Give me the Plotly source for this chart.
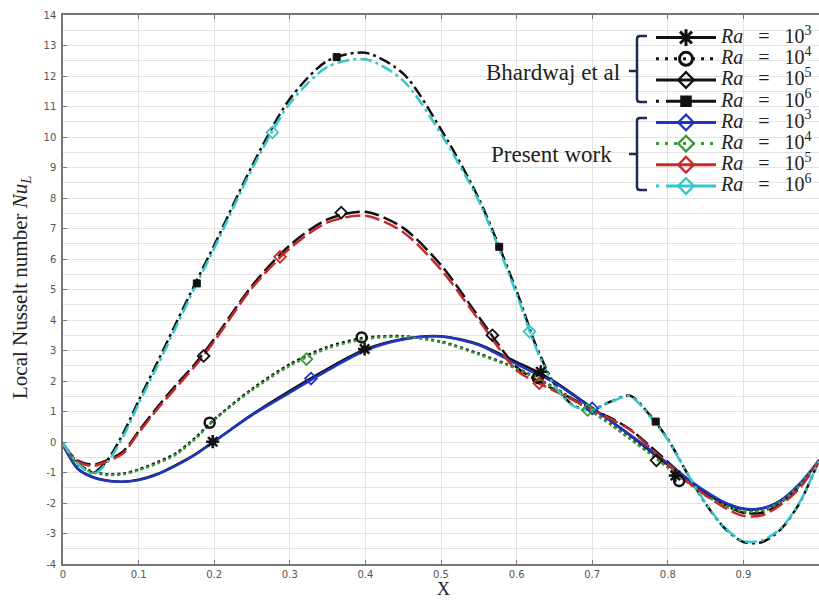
import plotly.graph_objects as go

# ---------------- data ----------------
X_POS = [0, 0.02, 0.04, 0.06, 0.08, 0.10, 0.125, 0.15, 0.175, 0.20, 0.25, 0.30, 0.35,
         0.40, 0.45, 0.50, 0.55, 0.60, 0.625, 0.65, 0.675, 0.70, 0.725, 0.75, 0.775,
         0.80, 0.825, 0.85, 0.875, 0.90, 0.925, 0.95, 0.975, 1.0]

bh_ra3 = [-0.1, -0.88, -1.15, -1.27, -1.3, -1.24, -1.05, -0.75, -0.4, 0.02, 0.9, 1.68, 2.4,
          3.04, 3.38, 3.47, 3.2, 2.62, 2.33, 1.98, 1.56, 1.12, 0.68, 0.22, -0.26,
          -0.75, -1.25, -1.68, -2.0, -2.2, -2.18, -1.92, -1.38, -0.6]
bh_ra4 = [-0.1, -0.74, -0.98, -1.06, -1.03, -0.9, -0.66, -0.36, 0.14, 0.74, 1.74, 2.55, 3.12,
          3.42, 3.47, 3.29, 2.9, 2.42, 2.12, 1.78, 1.4, 1.0, 0.58, 0.12, -0.34,
          -0.82, -1.3, -1.74, -2.08, -2.3, -2.27, -1.97, -1.42, -0.6]
bh_ra5 = [-0.1, -0.62, -0.74, -0.58, -0.3, 0.35, 1.15, 1.88, 2.57, 3.38, 5.12, 6.45, 7.3,
          7.55, 7.02, 5.8, 4.1, 2.45, 2.05, 1.72, 1.4, 1.08, 0.78, 0.42, -0.1,
          -0.65, -1.2, -1.65, -2.05, -2.32, -2.32, -2.0, -1.45, -0.6]
bh_ra6 = [-0.05, -0.7, -1.0, -0.55, 0.3, 1.35, 2.62, 3.92, 5.2, 6.45, 9.05, 11.25, 12.5,
          12.76, 12.08, 10.25, 7.98, 4.95, 3.2, 1.9, 1.2, 1.07, 1.33, 1.52, 0.92,
          0.1, -1.0, -2.02, -2.82, -3.28, -3.28, -2.85, -1.97, -0.6]

pw_ra3 = [-0.1, -0.9, -1.17, -1.28, -1.3, -1.25, -1.06, -0.77, -0.42, 0.02, 0.88, 1.62, 2.35,
          3.0, 3.36, 3.46, 3.18, 2.55, 2.25, 1.95, 1.53, 1.1, 0.68, 0.24, -0.22,
          -0.7, -1.18, -1.62, -1.98, -2.18, -2.17, -1.9, -1.35, -0.6]
pw_ra4 = [-0.1, -0.76, -1.0, -1.08, -1.05, -0.92, -0.7, -0.4, 0.1, 0.72, 1.7, 2.5, 3.07,
          3.38, 3.45, 3.27, 2.87, 2.4, 2.1, 1.76, 1.38, 0.98, 0.56, 0.1, -0.36,
          -0.84, -1.3, -1.75, -2.08, -2.28, -2.25, -1.95, -1.4, -0.6]
pw_ra5 = [-0.1, -0.65, -0.78, -0.62, -0.36, 0.3, 1.08, 1.8, 2.5, 3.3, 5.05, 6.35, 7.2,
          7.42, 6.88, 5.65, 4.0, 2.35, 1.98, 1.68, 1.37, 1.05, 0.75, 0.4, -0.15,
          -0.72, -1.28, -1.75, -2.15, -2.42, -2.4, -2.05, -1.5, -0.62]
pw_ra6 = [-0.05, -0.72, -1.05, -0.62, 0.2, 1.25, 2.5, 3.8, 5.1, 6.35, 8.95, 11.1, 12.3,
          12.55, 11.85, 10.1, 7.9, 4.85, 3.12, 1.85, 1.18, 1.05, 1.32, 1.5, 0.88,
          0.07, -1.0, -2.0, -2.8, -3.25, -3.22, -2.82, -1.95, -0.62]

# marker positions along the curves
bh_ra3_mx = [0.198, 0.399, 0.632, 0.81]
bh_ra3_my = [0.01, 3.05, 2.3, -1.1]
bh_ra4_mx = [0.194, 0.395, 0.628, 0.815]
bh_ra4_my = [0.63, 3.43, 2.1, -1.28]
bh_ra5_mx = [0.186, 0.368, 0.568, 0.785]
bh_ra5_my = [2.82, 7.52, 3.5, -0.6]
bh_ra6_mx = [0.177, 0.362, 0.577, 0.784]
bh_ra6_my = [5.2, 12.62, 6.4, 0.67]
pw_ra3_mx = [0.328, 0.70]
pw_ra3_my = [2.08, 1.1]
pw_ra4_mx = [0.322, 0.694]
pw_ra4_my = [2.72, 1.05]
pw_ra5_mx = [0.287, 0.63]
pw_ra5_my = [6.07, 1.93]
pw_ra6_mx = [0.277, 0.617]
pw_ra6_my = [10.15, 3.62]

EXPONENTS = ["3", "4", "5", "6"]
X_TICKS = [0, 0.1, 0.2, 0.3, 0.4, 0.5, 0.6, 0.7, 0.8, 0.9]
Y_TICKS = list(range(-4, 15))

# ---------------- styles ----------------
BLACK = "#111111"
BLUE = "#1f36c4"
GREEN = "#3a9a3a"
RED = "#c9292d"
CYAN = "#33c7c9"
BRACE = "#1d2b4f"

series = [
    # (line y, marker x, marker y, color, dash, symbol, size, marker line width)
    (bh_ra3, bh_ra3_mx, bh_ra3_my, BLACK, "solid", "asterisk-open", 11, 2.5),
    (bh_ra4, bh_ra4_mx, bh_ra4_my, BLACK, "3px,3px", "circle-open", 10, 2.5),
    (bh_ra5, bh_ra5_mx, bh_ra5_my, BLACK, "15px,5px", "diamond-open", 9, 1.8),
    (bh_ra6, bh_ra6_mx, bh_ra6_my, BLACK, "12px,4px,3px,4px", "square", 7, 1),
    (pw_ra3, pw_ra3_mx, pw_ra3_my, BLUE, "solid", "diamond-open", 9, 1.8),
    (pw_ra4, pw_ra4_mx, pw_ra4_my, GREEN, "3px,3px", "diamond-open", 9, 1.8),
    (pw_ra5, pw_ra5_mx, pw_ra5_my, RED, "15px,5px", "diamond-open", 9, 1.8),
    (pw_ra6, pw_ra6_mx, pw_ra6_my, CYAN, "12px,4px,3px,4px", "diamond-open", 9, 1.8),
]
legend_dash = ["solid", "3px,6px", "solid", "3px,7px,60px,0px",
               "solid", "3px,6px", "solid", "3px,7px,60px,0px"]

fig = go.Figure()

# legend entries
for i, (ys, mx, my, col, dash, sym, size, mlw) in enumerate(series):
    exp = EXPONENTS[i % 4]
    name = ('<span style="font-size:20px"><i>Ra</i>&nbsp;&nbsp;&nbsp;=&nbsp;&nbsp;&nbsp;10<sup>%s</sup></span>' % exp)
    fig.add_trace(go.Scatter(
        x=[None], y=[None], mode="lines+markers", name=name,
        line=dict(color=col, width=3, dash=legend_dash[i]),
        marker=dict(symbol=sym, size=size + 3, color=col,
                    line=dict(color=col, width=mlw + 0.5)),
        showlegend=True, hoverinfo="skip"))

# curves
for i, (ys, mx, my, col, dash, sym, size, mlw) in enumerate(series):
    fig.add_trace(go.Scatter(
        x=X_POS, y=ys, mode="lines",
        line=dict(color=col, width=2.5, dash=dash, shape="spline", smoothing=0.8),
        showlegend=False, hoverinfo="skip"))
for i, (ys, mx, my, col, dash, sym, size, mlw) in enumerate(series):
    fig.add_trace(go.Scatter(
        x=mx, y=my, mode="markers",
        marker=dict(symbol=sym, size=size, color=col, line=dict(color=col, width=mlw)),
        showlegend=False, hoverinfo="skip"))

W, H = 819, 600
L, R, T, B = 63, 0, 15, 36
PW, PH = W - L - R, H - T - B


def px(xp):
    return (xp - L) / PW


def py(yp):
    return (H - B - yp) / PH


def brace(y0, y1, ym):
    return (f"M {px(647)},{py(y0)} L {px(640)},{py(y0)} Q {px(637)},{py(y0)} {px(637)},{py(y0 + 3)} "
            f"L {px(637)},{py(y1 - 3)} Q {px(637)},{py(y1)} {px(640)},{py(y1)} L {px(647)},{py(y1)} "
            f"M {px(629)},{py(ym)} L {px(637)},{py(ym)}")


shapes = [
    dict(type="path", xref="paper", yref="paper", path=brace(36, 102, 71),
         line=dict(color=BRACE, width=2.5)),
    dict(type="path", xref="paper", yref="paper", path=brace(118, 190, 154),
         line=dict(color=BRACE, width=2.5)),
]

annotations = [
    dict(text="Bhardwaj et al", xref="paper", yref="paper", x=px(622), y=py(72),
         xanchor="right", yanchor="middle", showarrow=False,
         font=dict(family="Liberation Serif", size=23, color="#222")),
    dict(text="Present work", xref="paper", yref="paper", x=px(614), y=py(154),
         xanchor="right", yanchor="middle", showarrow=False,
         font=dict(family="Liberation Serif", size=23, color="#222")),
    dict(text="Local Nusselt number <i>Nu</i><sub><i>L</i></sub>", xref="paper", yref="paper",
         x=px(21), y=py(288), textangle=-90, xanchor="center", yanchor="middle", showarrow=False,
         font=dict(family="Liberation Serif", size=21, color="#222")),
    dict(text="X", xref="paper", yref="paper", x=px(443), y=py(588.5),
         xanchor="center", yanchor="middle", showarrow=False, borderpad=0,
         font=dict(family="Liberation Serif", size=18, color="#222")),
]

GRID = "#e2e2e2"
fig.update_layout(
    width=W, height=H, margin=dict(l=L, r=R, t=T, b=B),
    paper_bgcolor="white", plot_bgcolor="white",
    showlegend=True,
    legend=dict(x=px(651), y=py(22), xanchor="left", yanchor="top",
                bgcolor="rgba(0,0,0,0)", borderwidth=0, itemwidth=60,
                font=dict(family="Liberation Serif", size=14, color="#222"),
                traceorder="normal"),
    shapes=shapes, annotations=annotations,
    xaxis=dict(range=[0, 1.0], tickvals=X_TICKS, ticktext=[("%g" % v) for v in X_TICKS],
               showgrid=True, gridcolor=GRID, gridwidth=1, zeroline=False,
               showline=True, linecolor="#777", linewidth=1.5, mirror="ticks",
               ticks="inside", ticklen=4, tickcolor="#777",
               tickfont=dict(family="DejaVu Sans", size=10, color="#555")),
    yaxis=dict(range=[-4, 14], tickvals=Y_TICKS, ticktext=[str(v) for v in Y_TICKS],
               showgrid=True, gridcolor=GRID, gridwidth=1,
               zeroline=False, showline=True, linecolor="#777", linewidth=1.5,
               ticks="inside", ticklen=4, tickcolor="#777", ticklabelstandoff=3,
               minor=dict(dtick=0.5, showgrid=True, gridcolor=GRID, gridwidth=1),
               tickfont=dict(family="DejaVu Sans", size=10, color="#555")),
)

fig.write_html("out.html")
